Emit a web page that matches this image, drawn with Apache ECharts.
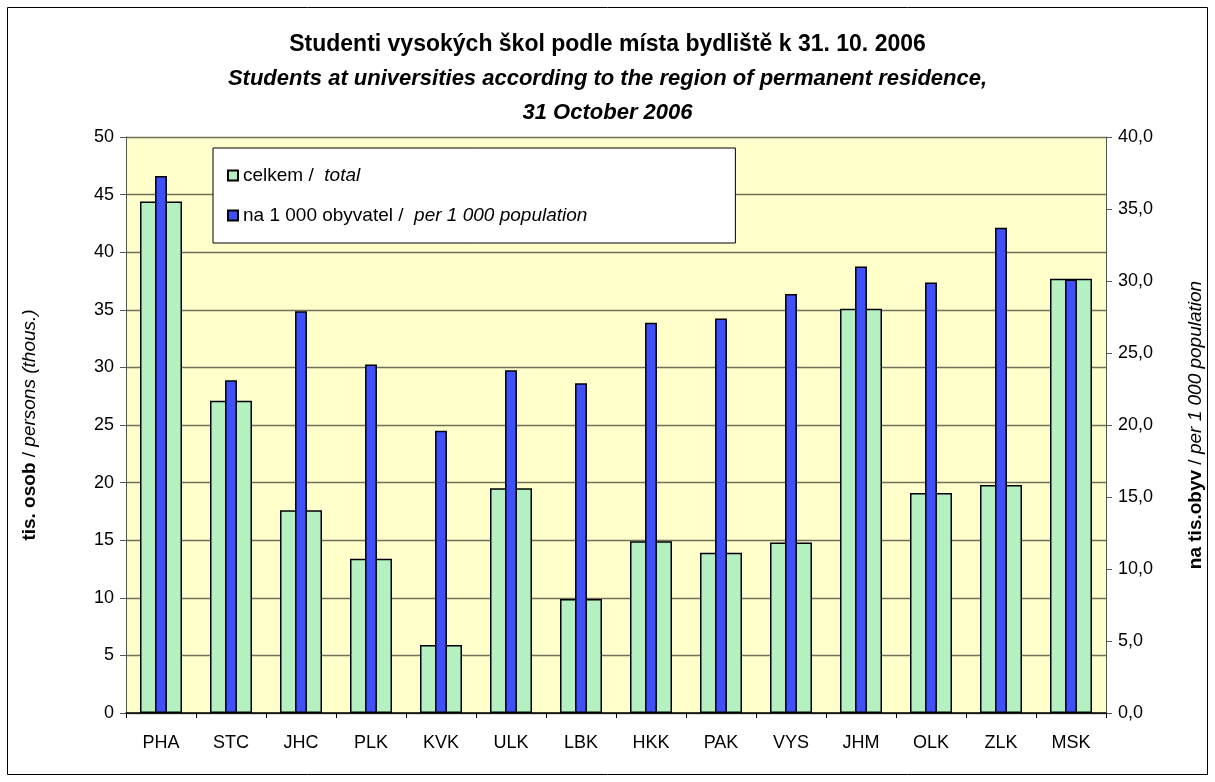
<!DOCTYPE html>
<html>
<head>
<meta charset="utf-8">
<script src="https://cdn.jsdelivr.net/npm/echarts@6/dist/echarts.min.js"></script>
<style>
html,body{margin:0;padding:0;background:#fff;}
#chart{width:1215px;height:782px;}
</style>
</head>
<body>
<div id="chart"></div>
<script>
const categories = ['PHA','STC','JHC','PLK','KVK','ULK','LBK','HKK','PAK','VYS','JHM','OLK','ZLK','MSK'];
const totalThous = [44.4, 27.1, 17.6, 13.4, 5.9, 19.5, 9.9, 14.9, 13.9, 14.8, 35.1, 19.1, 19.8, 37.7];
const per1000 = [37.3, 23.1, 27.9, 24.2, 19.6, 23.8, 22.9, 27.1, 27.4, 29.1, 31.0, 29.9, 33.7, 30.1];
const seriesNames = ['celkem / total', 'na 1 000 obyvatel / per 1 000 population'];
const legendParts = [['celkem /  ', 'total'], ['na 1 000 obyvatel /  ', 'per 1 000 population']];
const titleLines = ['Studenti vysokých škol podle místa bydliště k 31. 10. 2006',
                    'Students at universities according to the region of permanent residence,',
                    '31 October 2006'];
const leftAxisName = ['tis. osob', ' / ', 'persons (thous.)'];
const rightAxisName = ['na tis.obyv', ' / ', 'per 1 000 population'];

const FONT = '"Liberation Sans", Arial, sans-serif';
const chart = echarts.init(document.getElementById('chart'));

const option = {
  backgroundColor: '#fff',
  animation: false,
  textStyle: { fontFamily: FONT, color: '#000' },
  graphic: [{
    type: 'rect', silent: true, z: -10,
    shape: { x: 7.5, y: 7.5, width: 1200, height: 767 },
    style: { fill: 'none', stroke: '#000', lineWidth: 1 }
  }],
  title: {
    left: 'center', top: 23,
    text: '{a|' + titleLines[0] + '}\n{b|' + titleLines[1] + '}\n{b|' + titleLines[2] + '}',
    textStyle: {
      rich: {
        a: { fontFamily: FONT, fontWeight: 'bold', fontSize: 23, lineHeight: 34, color: '#000' },
        b: { fontFamily: FONT, fontStyle: 'italic', fontSize: 22, lineHeight: 34, color: '#000' }
      }
    }
  },
  legend: {
    left: 213, top: 148,
    orient: 'vertical',
    data: seriesNames,
    icon: 'rect',
    itemWidth: 10, itemHeight: 10, itemGap: 21,
    padding: [18, 148, 18, 14],
    backgroundColor: '#fff',
    borderColor: '#000', borderWidth: 1,
    selectedMode: false,
    formatter: function (name) {
      const i = seriesNames.indexOf(name);
      return '{r|' + legendParts[i][0] + '}{it|' + legendParts[i][1] + '}';
    },
    textStyle: {
      rich: {
        r: { fontFamily: FONT, fontSize: 19, color: '#000' },
        it: { fontFamily: FONT, fontSize: 19, fontStyle: 'italic', color: '#000' }
      }
    }
  },
  grid: {
    left: 126, right: 109, top: 137, bottom: 69,
    outerBoundsMode: 'none',
    show: true, backgroundColor: '#FFFFCC', borderWidth: 0
  },
  xAxis: [{
    type: 'category', data: categories,
    axisLine: { lineStyle: { color: '#000', width: 1.5 } },
    axisTick: { show: true, length: 5, lineStyle: { color: '#000' } },
    axisLabel: { fontFamily: FONT, fontSize: 18, color: '#000', margin: 21 }
  }, {
    type: 'category', data: categories, show: false
  }],
  yAxis: [{
    type: 'value', min: 0, max: 50, interval: 5,
    name: '{b|' + leftAxisName[0] + '}{r|' + leftAxisName[1] + '}{i|' + leftAxisName[2] + '}',
    nameLocation: 'middle', nameGap: 87, nameRotate: 90,
    nameTextStyle: {
      rich: {
        b: { fontFamily: FONT, fontWeight: 'bold', fontSize: 19, color: '#000' },
        r: { fontFamily: FONT, fontSize: 19, color: '#000' },
        i: { fontFamily: FONT, fontStyle: 'italic', fontSize: 19, color: '#000' }
      }
    },
    axisLine: { show: true, lineStyle: { color: '#555' } },
    axisTick: { show: true, length: 6, lineStyle: { color: '#555' } },
    axisLabel: { fontFamily: FONT, fontSize: 18, color: '#000', margin: 12 },
    splitLine: { show: true, lineStyle: { color: '#6f6f5a', width: 1.3 } }
  }, {
    type: 'value', min: 0, max: 40, interval: 5, position: 'right',
    name: '{b|' + rightAxisName[0] + '}{r|' + rightAxisName[1] + '}{i|' + rightAxisName[2] + '}',
    nameLocation: 'middle', nameGap: 80, nameRotate: 90,
    nameTextStyle: {
      rich: {
        b: { fontFamily: FONT, fontWeight: 'bold', fontSize: 19, color: '#000' },
        r: { fontFamily: FONT, fontSize: 19, color: '#000' },
        i: { fontFamily: FONT, fontStyle: 'italic', fontSize: 19, color: '#000' }
      }
    },
    axisLine: { show: true, lineStyle: { color: '#555' } },
    axisTick: { show: true, length: 6, lineStyle: { color: '#555' } },
    axisLabel: { fontFamily: FONT, fontSize: 18, color: '#000', margin: 12,
      formatter: v => v.toFixed(1).replace('.', ',') },
    splitLine: { show: false }
  }],
  series: [{
    name: seriesNames[0], type: 'bar',
    xAxisIndex: 0, yAxisIndex: 0,
    data: totalThous, barWidth: '60%',
    itemStyle: { color: '#B5F1C0', borderColor: '#000', borderWidth: 1.5 }
  }, {
    name: seriesNames[1], type: 'bar',
    xAxisIndex: 1, yAxisIndex: 1,
    data: per1000, barWidth: '17%',
    itemStyle: { color: '#3F50FA', borderColor: '#000', borderWidth: 1.5 }
  }]
};
chart.setOption(option);
</script>
</body>
</html>
